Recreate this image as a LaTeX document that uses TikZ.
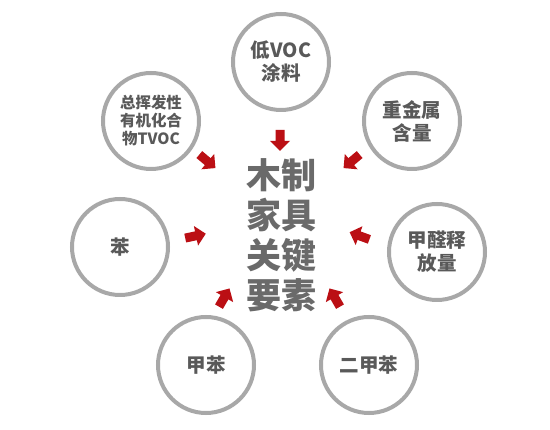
\documentclass[tikz,border=0pt]{standalone}
\usepackage{fontspec}
\newfontfamily\cjk{Noto Sans CJK SC}
\definecolor{ringgray}{HTML}{A8A8A8}
\definecolor{labelgray}{HTML}{595959}
\definecolor{titlegray}{HTML}{6A6A6A}
\definecolor{arrowred}{HTML}{BB0F14}
\tikzset{
  ring/.style={circle, draw=ringgray, line width=4pt, fill=white, minimum size=96pt, inner sep=0pt,
    align=center, text=labelgray, font={\cjk\bfseries\fontsize{19.5}{23}\selectfont}},
  smallring/.style={ring, font={\cjk\bfseries\fontsize{15.5}{18}\selectfont}},
  title/.style={align=center, text=titlegray, font={\cjk\bfseries\fontsize{35}{40}\selectfont}},
  redarr/.pic={\fill[arrowred] (-10,-4.5) -- (1,-4.5) -- (1,-10) -- (11,0) -- (1,10) -- (1,4.5) -- (-10,4.5) -- cycle;}
}
\begin{document}
\begin{tikzpicture}[x=1pt,y=-1pt]
\useasboundingbox[fill=white] (0,0) rectangle (550,430);
\node[title] (core) at (281,235) {木制\\家具\\关键\\要素};
\node[smallring] (tvoc) at (151,121) {总挥发性\\有机化合\\物TVOC};
\node[ring] (voc) at (281,62) {低VOC\\涂料};
\node[ring] (metal) at (412,121) {重金属\\含量};
\node[ring] (benzene) at (120,247) {苯};
\node[ring] (hcho) at (437,252) {甲醛释\\放量};
\node[ring] (toluene) at (206,365) {甲苯};
\node[ring] (xylene) at (369,365) {二甲苯};
\pic[rotate=-90] at (280,140) {redarr};
\pic[rotate=-40] at (207,161) {redarr};
\pic[rotate=-140] at (352,161) {redarr};
\pic[rotate=12] at (195,236) {redarr};
\pic[rotate=-200] at (360,236) {redarr};
\pic[rotate=60] at (224,298) {redarr};
\pic[rotate=120] at (335,298) {redarr};
\end{tikzpicture}
\end{document}
